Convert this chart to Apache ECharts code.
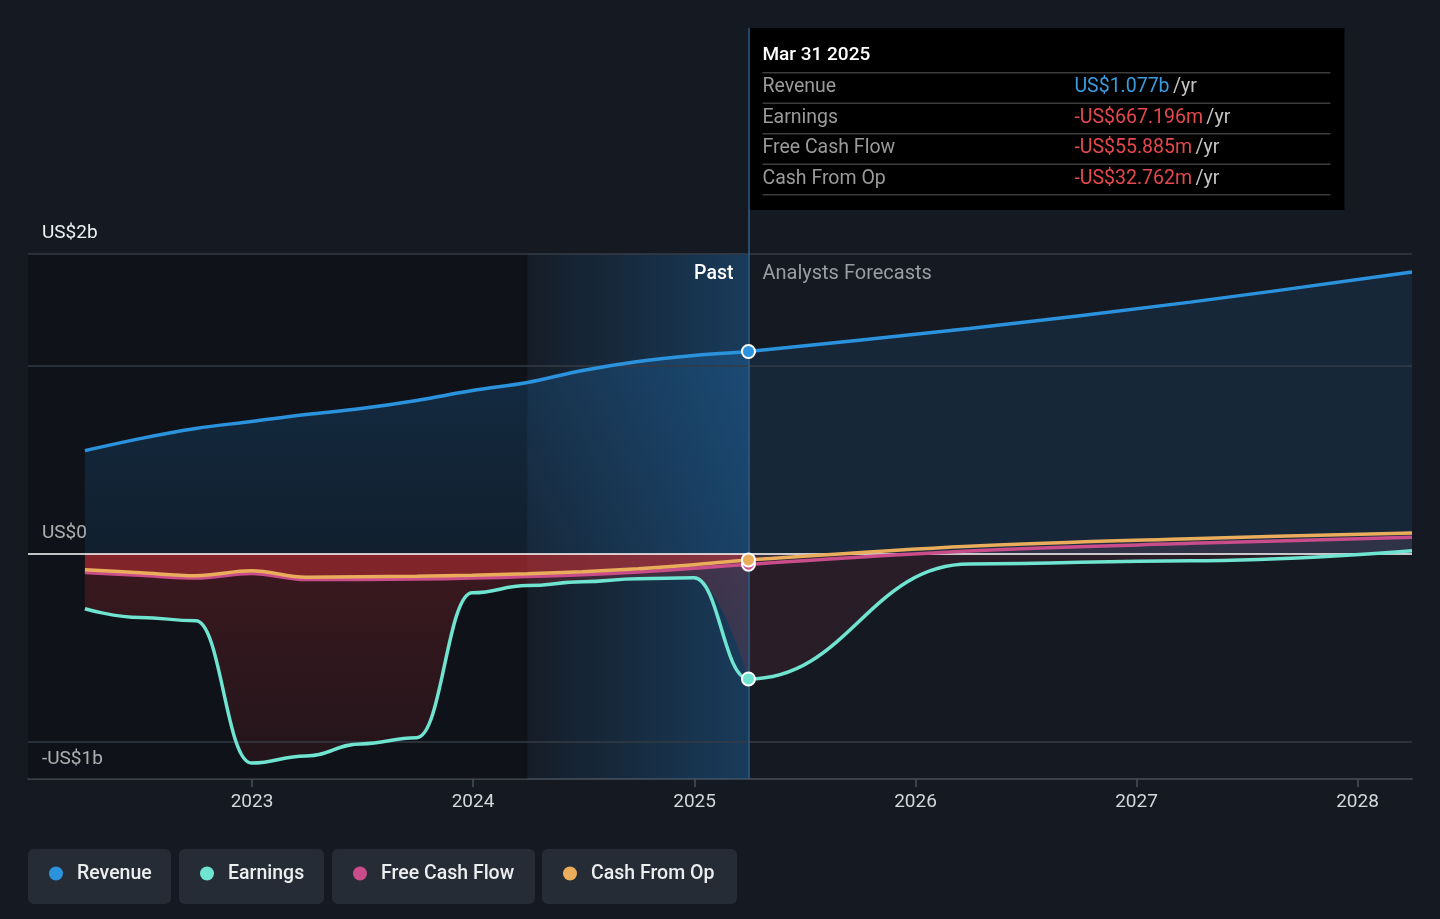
<!DOCTYPE html>
<html>
<head>
<meta charset="utf-8">
<title>Revenue, Earnings and Cash Flow</title>
<script src="https://cdn.jsdelivr.net/npm/echarts@6/dist/echarts.min.js"></script>
<style>
  html, body { margin: 0; padding: 0; background: #151a22; }
  #chart { width: 1440px; height: 919px; }
</style>
</head>
<body>
<div id="chart"></div>
<script>
// past quarters (trailing twelve months, US$ billions)
const pastDates = ['2022-03-31', '2022-06-30', '2022-09-30', '2022-12-31', '2023-03-31', '2023-06-30',
  '2023-09-30', '2023-12-31', '2024-03-31', '2024-06-30', '2024-09-30', '2024-12-31', '2025-03-31'];
const revenuePast = [0.549, 0.613, 0.667, 0.704, 0.741, 0.773, 0.816, 0.869, 0.912, 0.976, 1.024, 1.056, 1.077];
const earningsPast = [-0.293, -0.34, -0.357, -1.115, -1.077, -1.013, -0.98, -0.208, -0.17, -0.149, -0.133, -0.128, -0.667];
const fcfPast = [-0.1, -0.115, -0.13, -0.105, -0.138, -0.137, -0.135, -0.13, -0.122, -0.112, -0.097, -0.078, -0.056];
const cfoPast = [-0.085, -0.101, -0.117, -0.091, -0.125, -0.123, -0.12, -0.115, -0.107, -0.096, -0.08, -0.059, -0.033];

// analyst forecasts (first point is the latest actual)
const forecastDates = ['2025-03-31', '2026-03-31', '2027-03-31', '2028-03-31'];
const revenueFcst = [1.077, 1.2, 1.34, 1.5];
const earningsFcst = [-0.667, -0.055, -0.037, 0.016];
const fcfFcst = [-0.056, 0.015, 0.055, 0.087];
const cfoFcst = [-0.033, 0.04, 0.08, 0.11];

const seriesNames = ['Revenue', 'Earnings', 'Free Cash Flow', 'Cash From Op'];
const seriesColors = ['#2b93de', '#6ee4d1', '#c94d8a', '#e9ad5c'];

const yTickValues = [-1.2, 0, 1.6];
const yTickLabels = ['-US$1b', 'US$0', 'US$2b'];
const gridValues = [1.6, 1, -1];
const xTickYears = [2023, 2024, 2025, 2026, 2027, 2028];

const xMin = '2021-12-27';
const xMax = '2028-03-31';
const highlightStart = '2024-03-31';
const nowDate = '2025-03-31';

const tipTitle = 'Mar 31 2025';
const tipLabels = ['Revenue', 'Earnings', 'Free Cash Flow', 'Cash From Op'];
const tipValues = ['US$1.077b', '-US$667.196m', '-US$55.885m', '-US$32.762m'];
const tipColors = ['#3a9be0', '#e5484d', '#e5484d', '#e5484d'];

const FONT = 'Roboto, "Noto Sans", sans-serif';
const ts = d => Date.parse(d + 'T00:00:00Z');
const yearTicks = xTickYears.map(y => ts(y + '-01-01'));

function grad(c0, c1, horizontal) {
  return new echarts.graphic.LinearGradient(0, 0, horizontal ? 1 : 0, horizontal ? 0 : 1,
    [{ offset: 0, color: c0 }, { offset: 1, color: c1 }]);
}

const allDates = pastDates.concat(forecastDates.slice(1));
// share of the full series width that lies before "now" (x axis is linear in time)
const nowFrac = (ts(nowDate) - ts(allDates[0])) / (ts(allDates[allDates.length - 1]) - ts(allDates[0]));

// fill from the "now" date onward only, following the same smoothed line
function forecastOnly(color) {
  return new echarts.graphic.LinearGradient(0, 0, 1, 0, [
    { offset: 0, color: 'rgba(0,0,0,0)' },
    { offset: nowFrac, color: 'rgba(0,0,0,0)' },
    { offset: nowFrac, color: color },
    { offset: 1, color: color }
  ]);
}

const metrics = [
  { past: revenuePast, fcst: revenueFcst, smooth: 0.35, mono: null,
    pastFill: grad('rgba(32,120,195,0.36)', 'rgba(32,120,195,0.18)'),
    fcstFill: 'rgba(32,120,195,0.2)' },
  { past: earningsPast, fcst: earningsFcst, smooth: 0.45, mono: 'x',
    pastFill: grad('rgba(190,45,50,0.36)', 'rgba(190,45,50,0.16)'),
    fcstFill: 'rgba(150,50,72,0.22)' },
  { past: fcfPast, fcst: fcfFcst, smooth: 0.35, mono: null,
    pastFill: 'rgba(200,50,54,0.42)', fcstFill: 'rgba(170,110,140,0.14)' },
  { past: cfoPast, fcst: cfoFcst, smooth: 0.35, mono: null,
    pastFill: 'rgba(200,50,54,0.42)', fcstFill: 'rgba(170,110,140,0.10)' }
];

function pairs(dates, vals) {
  return dates.map((d, i) => [ts(d), vals[i]]);
}

const chart = echarts.init(document.getElementById('chart'));

const series = [
  // backdrop: shaded regions, grid lines, zero line
  {
    type: 'line', data: [], silent: true, z: 1,
    markArea: {
      silent: true,
      data: [
        [{ xAxis: ts(xMin), yAxis: -1.2, itemStyle: { color: 'rgba(0,0,0,0.28)' } }, { xAxis: ts(highlightStart), yAxis: 1.6 }],
        [{ xAxis: ts(highlightStart), yAxis: -1.2,
           itemStyle: { color: grad('rgba(30,105,170,0.04)', 'rgba(30,105,170,0.42)', true) } },
         { xAxis: ts(nowDate), yAxis: 1.6 }]
      ]
    },
    markLine: {
      silent: true, symbol: 'none', label: { show: false },
      data: gridValues.map(v => ({ yAxis: v, lineStyle: { color: '#353b44', width: 1.5, type: 'solid' } }))
        .concat([{ yAxis: 0, lineStyle: { color: '#ffffff', width: 1.5, type: 'solid' } }])
    }
  },
  // "now" divider
  {
    type: 'line', data: [], silent: true, z: 5,
    markLine: {
      silent: true, symbol: 'none', label: { show: false },
      data: [{ xAxis: ts(nowDate), lineStyle: { color: '#2f6189', width: 1.5, type: 'solid' } }]
    }
  }
];

metrics.forEach((m, idx) => {
  const vals = m.past.concat(m.fcst.slice(1));
  const common = {
    name: seriesNames[idx], type: 'line', silent: true, symbol: 'none', showSymbol: true,
    smooth: m.smooth, smoothMonotone: m.mono || undefined
  };
  // past fill
  series.push(Object.assign({}, common, {
    z: 2, lineStyle: { width: 0, opacity: 0 }, areaStyle: { color: m.pastFill }, data: pairs(pastDates, m.past)
  }));
  // forecast fill over the whole line, transparent before "now"
  series.push(Object.assign({}, common, {
    z: 2, lineStyle: { width: 0, opacity: 0 }, areaStyle: { color: forecastOnly(m.fcstFill) }, data: pairs(allDates, vals)
  }));
  // the line itself, with a marker at the latest actual
  const data = allDates.map((d, i) => {
    if (d === nowDate) {
      return { value: [ts(d), vals[i]], symbol: 'circle', symbolSize: 13,
        itemStyle: { color: seriesColors[idx], borderColor: '#ffffff', borderWidth: 2 } };
    }
    return [ts(d), vals[i]];
  });
  series.push(Object.assign({}, common, {
    z: 6 + idx, lineStyle: { color: seriesColors[idx], width: 3.5 }, itemStyle: { color: seriesColors[idx] }, data: data
  }));
});

chart.setOption({
  backgroundColor: '#151a22',
  animation: false,
  textStyle: { fontFamily: FONT },
  grid: { left: 28, right: 28, top: 28, bottom: 140 },
  legend: { show: false, data: seriesNames },
  xAxis: {
    type: 'value',
    min: ts(xMin),
    max: ts(xMax),
    splitLine: { show: false },
    axisLine: { onZero: false, lineStyle: { color: '#4a5058', width: 1.5 } },
    axisTick: { customValues: yearTicks, length: 8, lineStyle: { color: '#4a5058', width: 1.5 } },
    axisLabel: {
      customValues: yearTicks,
      formatter: v => String(new Date(v).getUTCFullYear()),
      color: '#d4d7db', fontSize: 19, margin: 14, fontFamily: FONT
    }
  },
  yAxis: {
    type: 'value',
    min: -1.2,
    max: 2.8,
    splitLine: { show: false },
    axisLine: { show: false },
    axisTick: { show: false },
    axisLabel: {
      inside: true,
      customValues: yTickValues,
      formatter: v => {
        const i = yTickValues.findIndex(t => Math.abs(t - v) < 1e-9);
        return i >= 0 ? yTickLabels[i] : '';
      },
      color: '#eef0f2', fontSize: 19, margin: 14, fontFamily: FONT,
      verticalAlign: 'bottom', lineHeight: 22, padding: [0, 0, 9, 0]
    }
  },
  series: series
});

// overlay annotations positioned from the axis scale
const nowX = chart.convertToPixel({ xAxisIndex: 0 }, ts(nowDate));
const topY = chart.convertToPixel({ yAxisIndex: 0 }, 1.6);

const tipW = 596, tipTop = 28, rowH = 30.5;
const tipChildren = [
  { type: 'rect', shape: { x: 0, y: 0, width: tipW, height: 182 }, style: { fill: '#000000' } },
  { type: 'text', x: 14, y: 27.5, style: { text: tipTitle, fill: '#ffffff', font: '500 19px ' + FONT, verticalAlign: 'middle' } }
];
for (let i = 0; i <= tipLabels.length; i++) {
  tipChildren.push({ type: 'rect', shape: { x: 14, y: 44 + i * rowH, width: tipW - 28, height: 1.5 }, style: { fill: '#3c3c3c' } });
}
tipLabels.forEach((lab, i) => {
  const cy = 59.5 + i * rowH;
  tipChildren.push({ type: 'text', x: 14, y: cy, style: { text: lab, fill: '#9b9b9b', font: '19.5px ' + FONT, verticalAlign: 'middle' } });
  tipChildren.push({
    type: 'text', x: 326, y: cy,
    style: {
      text: '{v|' + tipValues[i] + '} {u|/yr}', verticalAlign: 'middle',
      rich: {
        v: { fill: tipColors[i], font: '19.5px ' + FONT },
        u: { fill: '#c4c4c4', font: '19.5px ' + FONT }
      }
    }
  });
});

// legend chips
const chipX = [28, 179, 332, 542];
const chipW = [143, 145, 203, 195];
const legendChildren = [];
seriesNames.forEach((n, i) => {
  legendChildren.push({ type: 'rect', shape: { x: chipX[i], y: 849, width: chipW[i], height: 55, r: 6 }, style: { fill: '#262c35' } });
  legendChildren.push({ type: 'circle', shape: { cx: chipX[i] + 28, cy: 873.5, r: 7 }, style: { fill: seriesColors[i] } });
  legendChildren.push({ type: 'text', x: chipX[i] + 49, y: 874, style: { text: n, fill: '#eceef0', font: '500 19.5px ' + FONT, verticalAlign: 'middle' } });
});

chart.setOption({
  graphic: [
    { type: 'text', x: nowX - 15, y: topY + 21, z: 50,
      style: { text: 'Past', fill: '#ffffff', font: '500 19.5px ' + FONT, align: 'right', verticalAlign: 'middle' } },
    { type: 'text', x: nowX + 14, y: topY + 21, z: 50,
      style: { text: 'Analysts Forecasts', fill: '#9a9da2', font: '20px ' + FONT, align: 'left', verticalAlign: 'middle' } },
    { type: 'group', x: nowX, y: tipTop, z: 100, children: tipChildren },
    { type: 'group', z: 100, children: legendChildren }
  ]
});
</script>
</body>
</html>
